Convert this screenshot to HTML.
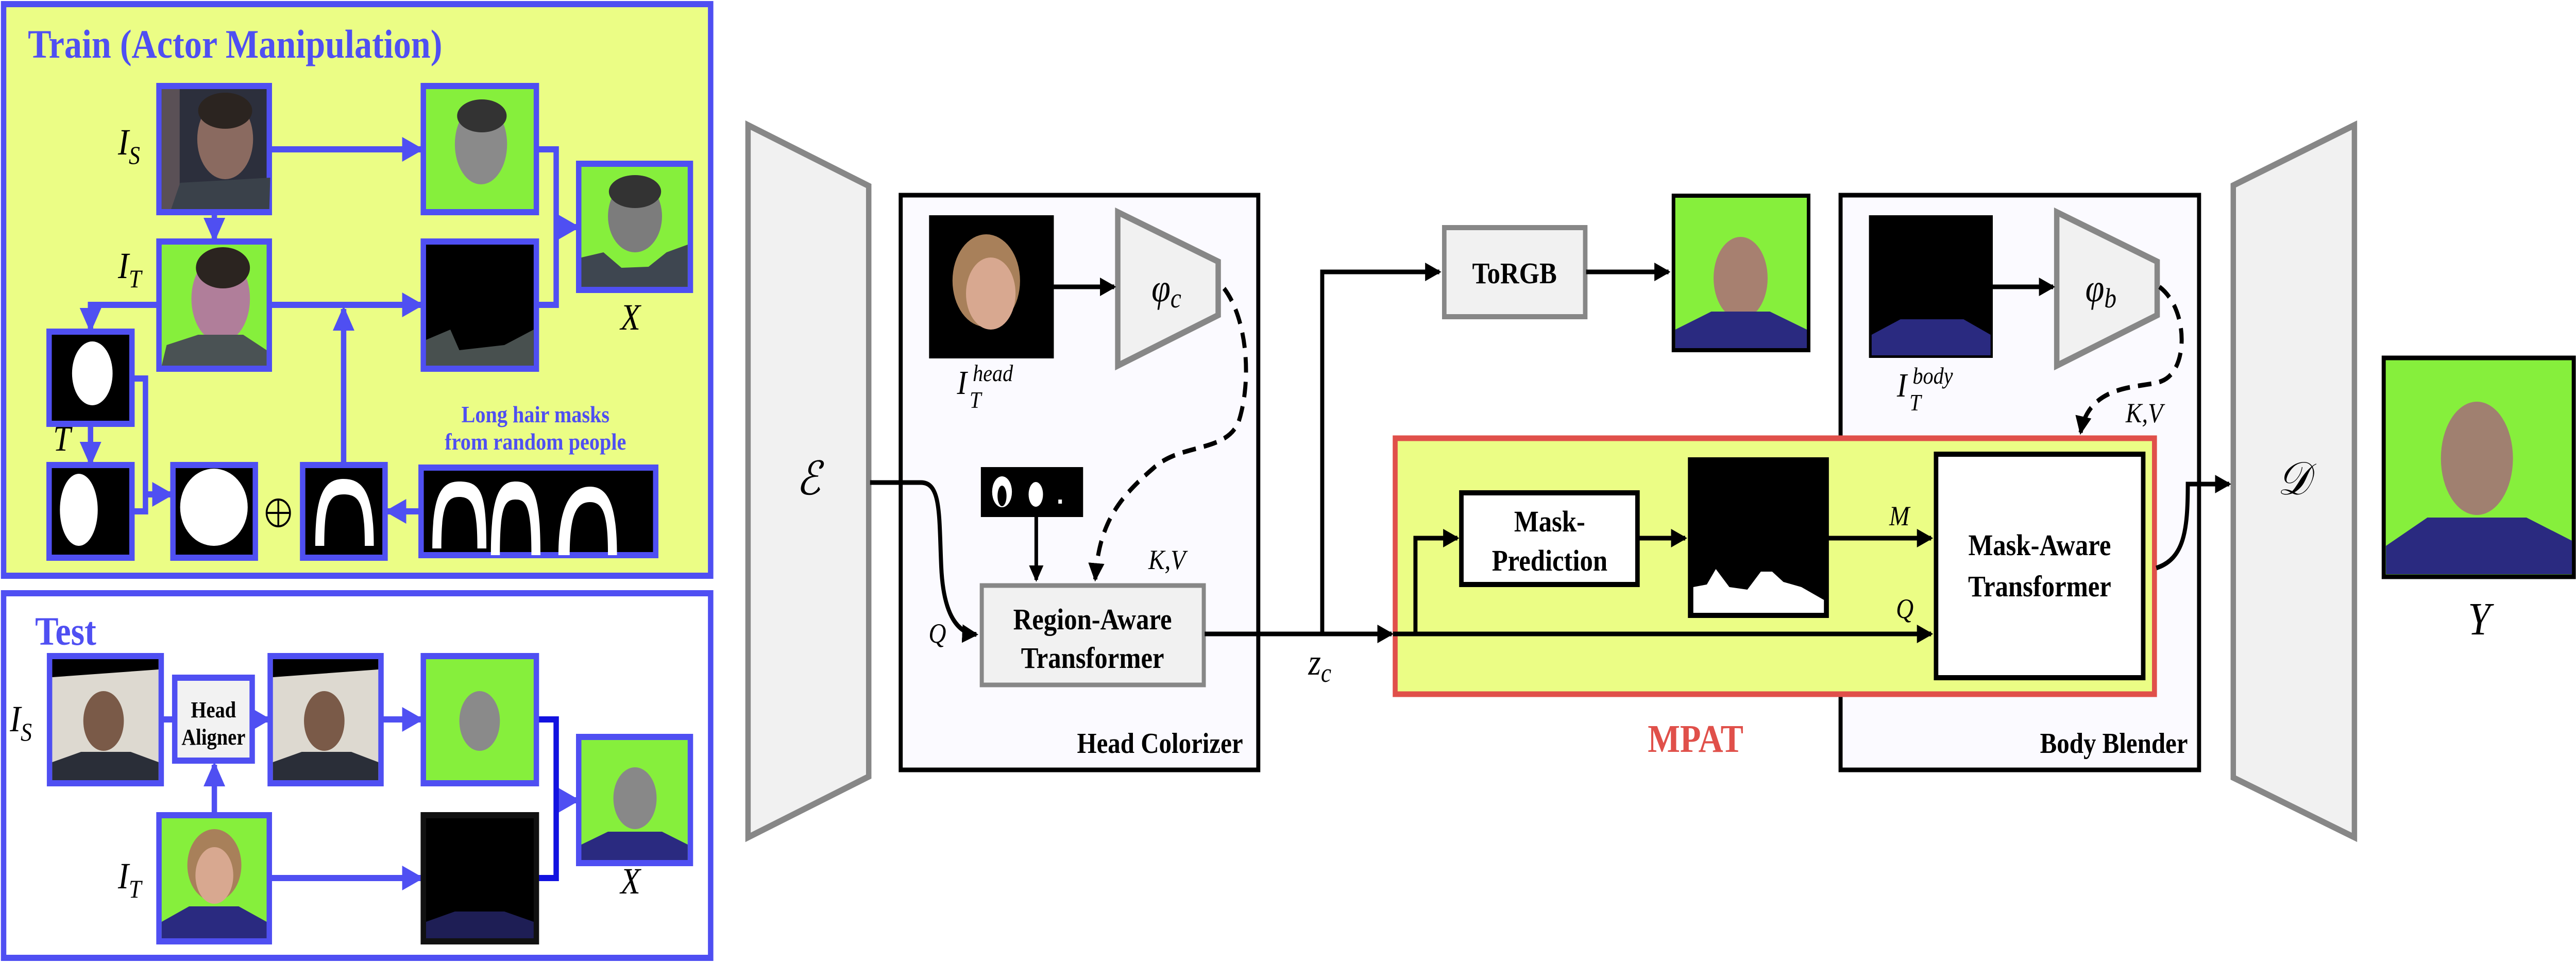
<!DOCTYPE html>
<html><head><meta charset="utf-8"><meta name="viewport" content="width=5720, initial-scale=1"><style>
html,body{margin:0;padding:0;background:#fff;width:100%;height:100%;overflow:hidden;}
svg{display:block;position:absolute;left:0;top:0;width:100%;height:100%;}
text{font-family:"Liberation Serif",serif;}
</style></head><body>
<svg viewBox="0 0 5720 1870" preserveAspectRatio="none" xmlns="http://www.w3.org/2000/svg">
<defs>
<marker id="ab" markerWidth="4" markerHeight="4" refX="3.5" refY="2" orient="auto" markerUnits="strokeWidth"><path d="M0,0 L4,2 L0,4 z" fill="#4f4ff2"/></marker>
<marker id="ak" markerWidth="4" markerHeight="4" refX="3.5" refY="2" orient="auto" markerUnits="strokeWidth"><path d="M0,0 L4,2 L0,4 z" fill="#000"/></marker>
</defs>

<rect x="8" y="8" width="1570" height="1110" fill="#ebfd85" stroke="#4f4ff2" stroke-width="12"/>
<text x="62" y="112" font-size="78" font-weight="bold" fill="#4f4ff2">Train (Actor Manipulation)</text>

<g stroke="#4f4ff2" stroke-width="12" fill="none">
<line x1="598" y1="290" x2="935" y2="290" marker-end="url(#ab)"/>
<line x1="476" y1="412" x2="476" y2="465" marker-end="url(#ab)"/>
<line x1="598" y1="592" x2="935" y2="592" marker-end="url(#ab)"/>
<polyline points="353,592 201,592 201,640" marker-end="url(#ab)"/>
<polyline points="1191,290 1235,290 1235,592 1191,592"/>
<line x1="1235" y1="441" x2="1282" y2="441" marker-end="url(#ab)"/>
<line x1="201" y1="823" x2="201" y2="900" marker-end="url(#ab)"/>
<polyline points="293,735 323,735 323,993 293,993"/>
<line x1="323" y1="960" x2="380" y2="960" marker-end="url(#ab)"/>
<line x1="763" y1="903" x2="763" y2="600" marker-end="url(#ab)"/>
<line x1="935" y1="993" x2="860" y2="993" marker-end="url(#ab)"/>
</g>

<g stroke="#4f4ff2" stroke-width="12">
<rect x="353" y="167" width="245" height="245" fill="#2c2f3c"/>
<rect x="940" y="167" width="251" height="245" fill="#86ef3c"/>
<rect x="1285" y="318" width="248" height="245" fill="#86ef3c"/>
<rect x="353" y="469" width="245" height="247" fill="#86ef3c"/>
<rect x="940" y="469" width="251" height="247" fill="#000"/>
<rect x="109" y="644" width="184" height="179" fill="#000"/>
<rect x="109" y="903" width="184" height="180" fill="#000"/>
<rect x="384" y="903" width="183" height="180" fill="#000"/>
<rect x="672" y="903" width="183" height="180" fill="#000"/>
<rect x="935" y="908" width="521" height="170" fill="#000"/>
</g>
<rect x="359" y="173" width="40" height="233" fill="#5a5056"/>
<ellipse cx="500" cy="270" rx="62" ry="78" fill="#8a6a60"/>
<ellipse cx="500" cy="215" rx="60" ry="35" fill="#2b2420"/>
<path d="M380,406 L400,355 L600,345 L598,406 z" fill="#3a414a"/>
<ellipse cx="1068" cy="280" rx="58" ry="78" fill="#8a8a8a"/>
<ellipse cx="1070" cy="225" rx="55" ry="32" fill="#333"/>
<ellipse cx="1410" cy="420" rx="60" ry="70" fill="#7c7c7c"/>
<ellipse cx="1410" cy="372" rx="58" ry="32" fill="#333"/>
<path d="M1291,557 L1291,500 L1340,490 L1380,520 L1440,518 L1480,490 L1527,475 L1527,557 z" fill="#3e4650"/>
<ellipse cx="490" cy="580" rx="65" ry="85" fill="#b07e9a"/>
<ellipse cx="495" cy="520" rx="60" ry="40" fill="#2b2420"/>
<path d="M359,710 L370,670 L440,650 L540,650 L592,680 L592,710 z" fill="#4a5254"/>
<path d="M946,710 L946,660 L1000,640 L1020,680 L1120,670 L1185,640 L1185,710 z" fill="#48504f"/>
<ellipse cx="205" cy="725" rx="45" ry="62" fill="#fff"/>
<ellipse cx="175" cy="990" rx="42" ry="70" fill="#fff"/>
<ellipse cx="475" cy="985" rx="75" ry="75" fill="#fff"/>
<path d="M700,1060 C700,960 720,930 763,930 C808,930 830,960 830,1060 L810,1060 C810,980 800,960 763,960 C730,960 720,980 720,1060 z" fill="#fff"/>
<path d="M960,1065 C960,960 980,935 1020,935 C1070,935 1080,960 1080,1065 L1060,1065 C1060,985 1050,965 1020,965 C990,965 980,985 980,1065 z" fill="#fff"/>
<path d="M1090,1078 C1090,960 1110,935 1145,935 C1185,935 1200,960 1200,1078 L1180,1078 C1180,985 1170,970 1145,970 C1120,970 1110,985 1110,1078 z" fill="#fff"/>
<path d="M1240,1078 C1240,980 1270,945 1310,945 C1350,945 1370,980 1370,1078 L1350,1078 C1350,1000 1340,975 1310,975 C1280,975 1265,1000 1265,1078 z" fill="#fff"/>

<g font-style="italic" font-size="72" fill="#000">
<text x="262" y="300">I<tspan font-size="50" dy="18">S</tspan></text>
<text x="262" y="540">I<tspan font-size="50" dy="18">T</tspan></text>
<text x="1378" y="640">X</text>
<text x="118" y="875" font-size="70">T</text>
</g>
<circle cx="618" cy="996" r="26" fill="none" stroke="#000" stroke-width="4"/>
<line x1="592" y1="996" x2="644" y2="996" stroke="#000" stroke-width="4"/>
<line x1="618" y1="970" x2="618" y2="1022" stroke="#000" stroke-width="4"/>
<text x="1189" y="820" font-size="46" font-weight="bold" fill="#4f4ff2" text-anchor="middle">Long hair masks</text>
<text x="1189" y="873" font-size="46" font-weight="bold" fill="#4f4ff2" text-anchor="middle">from random people</text>

<rect x="8" y="1152" width="1570" height="708" fill="#fff" stroke="#4f4ff2" stroke-width="12"/>
<text x="78" y="1252" font-size="78" font-weight="bold" fill="#4f4ff2">Test</text>
<g stroke="#4f4ff2" stroke-width="12" fill="none">
<line x1="358" y1="1397" x2="388" y2="1397"/>
<line x1="560" y1="1397" x2="596" y2="1397" marker-end="url(#ab)"/>
<line x1="846" y1="1397" x2="935" y2="1397" marker-end="url(#ab)"/>
<line x1="476" y1="1583" x2="476" y2="1485" marker-end="url(#ab)"/>
<line x1="598" y1="1705" x2="935" y2="1705" marker-end="url(#ab)"/>
<line x1="1235" y1="1554" x2="1282" y2="1554" marker-end="url(#ab)"/>
</g>
<polyline points="1191,1397 1235,1397 1235,1705 1191,1705" fill="none" stroke="#1212e0" stroke-width="12"/>
<g stroke="#4f4ff2" stroke-width="12">
<rect x="110" y="1274" width="248" height="247" fill="#ddd9d0"/>
<rect x="388" y="1316" width="172" height="161" fill="#f2f2f2"/>
<rect x="600" y="1274" width="246" height="247" fill="#ddd9d0"/>
<rect x="940" y="1274" width="251" height="247" fill="#86ef3c"/>
<rect x="1285" y="1431" width="248" height="245" fill="#86ef3c"/>
<rect x="353" y="1583" width="245" height="245" fill="#86ef3c"/>
</g>
<rect x="940" y="1583" width="251" height="245" fill="#000" stroke="#111" stroke-width="12"/>
<path d="M116,1280 L352,1280 L352,1300 L116,1315 z" fill="#000"/>
<path d="M606,1280 L840,1280 L840,1300 L606,1315 z" fill="#000"/>
<ellipse cx="230" cy="1400" rx="45" ry="58" fill="#7a5a48"/>
<path d="M116,1515 L116,1480 L180,1460 L290,1460 L352,1480 L352,1515 z" fill="#2a2e38"/>
<ellipse cx="720" cy="1400" rx="45" ry="58" fill="#7a5a48"/>
<path d="M606,1515 L606,1480 L670,1460 L780,1460 L840,1480 L840,1515 z" fill="#2a2e38"/>
<ellipse cx="1065" cy="1400" rx="45" ry="58" fill="#8a8a8a"/>
<ellipse cx="1410" cy="1550" rx="48" ry="60" fill="#888"/>
<path d="M1291,1670 L1291,1640 L1350,1615 L1470,1615 L1527,1640 L1527,1670 z" fill="#2a2a80"/>
<ellipse cx="476" cy="1680" rx="60" ry="70" fill="#a8805a"/>
<ellipse cx="476" cy="1700" rx="42" ry="55" fill="#d8a890"/>
<path d="M359,1822 L359,1790 L420,1760 L530,1760 L592,1790 L592,1822 z" fill="#2a2a80"/>
<path d="M946,1822 L946,1790 L1010,1770 L1120,1770 L1185,1790 L1185,1822 z" fill="#1e1e55"/>
<text x="474" y="1393" font-size="44" font-weight="bold" text-anchor="middle">Head</text>
<text x="474" y="1446" font-size="44" font-weight="bold" text-anchor="middle">Aligner</text>
<g font-style="italic" font-size="72" fill="#000">
<text x="22" y="1420">I<tspan font-size="50" dy="18">S</tspan></text>
<text x="262" y="1725">I<tspan font-size="50" dy="18">T</tspan></text>
<text x="1378" y="1735">X</text>
</g>

<polygon points="1661,243 1929,361 1929,1508 1661,1626" fill="#f1f1f1" stroke="#878787" stroke-width="12"/>
<text x="1795" y="960" font-size="90" font-style="italic" text-anchor="middle">ℰ</text>
<polygon points="4959,360 5228,243 5228,1626 4959,1510" fill="#f1f1f1" stroke="#878787" stroke-width="12"/>
<text x="5093" y="960" font-size="90" font-style="italic" text-anchor="middle">𝒟</text>

<rect x="2000" y="379" width="794" height="1116" fill="#fbfaff" stroke="#000" stroke-width="9"/>
<text x="2760" y="1462" font-size="56" font-weight="bold" text-anchor="end">Head Colorizer</text>
<rect x="2063" y="418" width="277" height="278" fill="#000"/>
<ellipse cx="2190" cy="545" rx="75" ry="90" fill="#a8805a"/>
<ellipse cx="2200" cy="570" rx="55" ry="70" fill="#d8a890"/>
<polygon points="2482,412 2705,508 2705,612 2482,710" fill="#f1f1f1" stroke="#878787" stroke-width="12"/>
<text x="2590" y="585" font-size="76" font-style="italic" text-anchor="middle">φ<tspan font-size="54" dy="12">c</tspan></text>
<line x1="2340" y1="557" x2="2474" y2="557" stroke="#000" stroke-width="9" marker-end="url(#ak)"/>
<text x="2125" y="765" font-size="66" font-style="italic">I</text>
<text x="2160" y="740" font-size="46" font-style="italic">head</text>
<text x="2153" y="792" font-size="46" font-style="italic">T</text>
<rect x="2178" y="907" width="227" height="97" fill="#000"/>
<ellipse cx="2225" cy="955" rx="22" ry="30" fill="#fff"/>
<ellipse cx="2225" cy="963" rx="10" ry="20" fill="#000"/>
<ellipse cx="2300" cy="960" rx="16" ry="24" fill="#fff"/>
<rect x="2350" y="970" width="8" height="8" fill="#fff"/>
<line x1="2301" y1="1004" x2="2301" y2="1126" stroke="#000" stroke-width="8" marker-end="url(#ak)"/>
<path d="M2718,560 C2770,620 2780,740 2750,820 C2720,880 2620,860 2560,910 C2480,970 2440,1020 2432,1125" fill="none" stroke="#000" stroke-width="9" stroke-dasharray="30,18" marker-end="url(#ak)"/>
<text x="2550" y="1105" font-size="54" font-style="italic">K,V</text>
<rect x="2180" y="1137" width="493" height="193" fill="#f1f1f1" stroke="#878787" stroke-width="9"/>
<text x="2426" y="1222" font-size="58" font-weight="bold" text-anchor="middle">Region-Aware</text>
<text x="2426" y="1297" font-size="58" font-weight="bold" text-anchor="middle">Transformer</text>
<text x="2062" y="1248" font-size="54" font-style="italic">Q</text>
<path d="M1932,937 L2045,937 C2090,937 2085,1000 2090,1100 C2095,1200 2130,1230 2168,1232" fill="none" stroke="#000" stroke-width="9" marker-end="url(#ak)"/>

<line x1="2675" y1="1231" x2="3090" y2="1231" stroke="#000" stroke-width="9" marker-end="url(#ak)"/>
<polyline points="2936,1231 2936,528 3196,528" fill="none" stroke="#000" stroke-width="9" marker-end="url(#ak)"/>
<text x="2905" y="1310" font-size="72" font-style="italic">z<tspan font-size="52" dy="14">c</tspan></text>
<rect x="3207" y="442" width="313" height="173" fill="#f1f1f1" stroke="#878787" stroke-width="10"/>
<text x="3363" y="550" font-size="58" font-weight="bold" text-anchor="middle">ToRGB</text>
<line x1="3522" y1="528" x2="3705" y2="528" stroke="#000" stroke-width="9" marker-end="url(#ak)"/>
<rect x="3716" y="380" width="300" height="300" fill="#86ef3c" stroke="#000" stroke-width="8"/>
<ellipse cx="3865" cy="540" rx="60" ry="80" fill="#a78070"/>
<path d="M3720,676 L3720,640 L3800,605 L3930,605 L4012,640 L4012,676 z" fill="#2a2a80"/>

<rect x="4087" y="379" width="796" height="1116" fill="#fbfaff" stroke="#000" stroke-width="9"/>
<text x="4858" y="1462" font-size="56" font-weight="bold" text-anchor="end">Body Blender</text>
<rect x="4150" y="418" width="275" height="277" fill="#000"/>
<path d="M4156,690 L4156,650 L4220,620 L4360,620 L4420,650 L4420,690 z" fill="#2a2a80"/>
<polygon points="4567,412 4790,508 4790,612 4567,710" fill="#f1f1f1" stroke="#878787" stroke-width="12"/>
<text x="4665" y="585" font-size="76" font-style="italic" text-anchor="middle">φ<tspan font-size="54" dy="12">b</tspan></text>
<line x1="4425" y1="557" x2="4559" y2="557" stroke="#000" stroke-width="9" marker-end="url(#ak)"/>
<text x="4212" y="770" font-size="66" font-style="italic">I</text>
<text x="4247" y="745" font-size="46" font-style="italic">body</text>
<text x="4240" y="797" font-size="46" font-style="italic">T</text>
<path d="M4795,557 C4860,600 4860,720 4800,740 C4760,755 4640,740 4620,840" fill="none" stroke="#000" stroke-width="9" stroke-dasharray="30,18" marker-end="url(#ak)"/>
<text x="4720" y="820" font-size="54" font-style="italic">K,V</text>

<rect x="3098" y="851" width="1686" height="497" fill="#ebfd85" stroke="#e0504a" stroke-width="11"/>
<text x="3765" y="1460" font-size="76" font-weight="bold" fill="#e0504a" text-anchor="middle">MPAT</text>
<line x1="3093" y1="1231" x2="4288" y2="1231" stroke="#000" stroke-width="9" marker-end="url(#ak)"/>
<polyline points="3143,1231 3143,1045 3236,1045" fill="none" stroke="#000" stroke-width="9" marker-end="url(#ak)"/>
<rect x="3245" y="957" width="391" height="178" fill="#fff" stroke="#000" stroke-width="10"/>
<text x="3441" y="1032" font-size="58" font-weight="bold" text-anchor="middle">Mask-</text>
<text x="3441" y="1108" font-size="58" font-weight="bold" text-anchor="middle">Prediction</text>
<line x1="3636" y1="1045" x2="3742" y2="1045" stroke="#000" stroke-width="9" marker-end="url(#ak)"/>
<rect x="3752" y="892" width="305" height="304" fill="#000" stroke="#000" stroke-width="8"/>
<path d="M3760,1190 L3760,1140 L3790,1135 L3810,1105 L3840,1140 L3880,1145 L3910,1110 L3935,1110 L3960,1130 L4000,1140 L4050,1165 L4050,1190 z" fill="#fff"/>
<line x1="4057" y1="1045" x2="4288" y2="1045" stroke="#000" stroke-width="9" marker-end="url(#ak)"/>
<text x="4195" y="1020" font-size="54" font-style="italic">M</text>
<text x="4210" y="1200" font-size="54" font-style="italic">Q</text>
<rect x="4299" y="882" width="460" height="434" fill="#fff" stroke="#000" stroke-width="10"/>
<text x="4529" y="1078" font-size="58" font-weight="bold" text-anchor="middle">Mask-Aware</text>
<text x="4529" y="1158" font-size="58" font-weight="bold" text-anchor="middle">Transformer</text>
<path d="M4788,1103 C4850,1085 4858,1030 4858,940 L4950,940" fill="none" stroke="#000" stroke-width="9" marker-end="url(#ak)"/>

<rect x="5293" y="695" width="422" height="425" fill="#86ef3c" stroke="#000" stroke-width="9"/>
<ellipse cx="5500" cy="890" rx="80" ry="110" fill="#a08070"/>
<path d="M5298,1115 L5298,1060 L5390,1005 L5610,1005 L5711,1050 L5711,1115 z" fill="#2a2a80"/>
<text x="5505" y="1232" font-size="90" font-style="italic" text-anchor="middle">Y</text>
</svg>
</body></html>
